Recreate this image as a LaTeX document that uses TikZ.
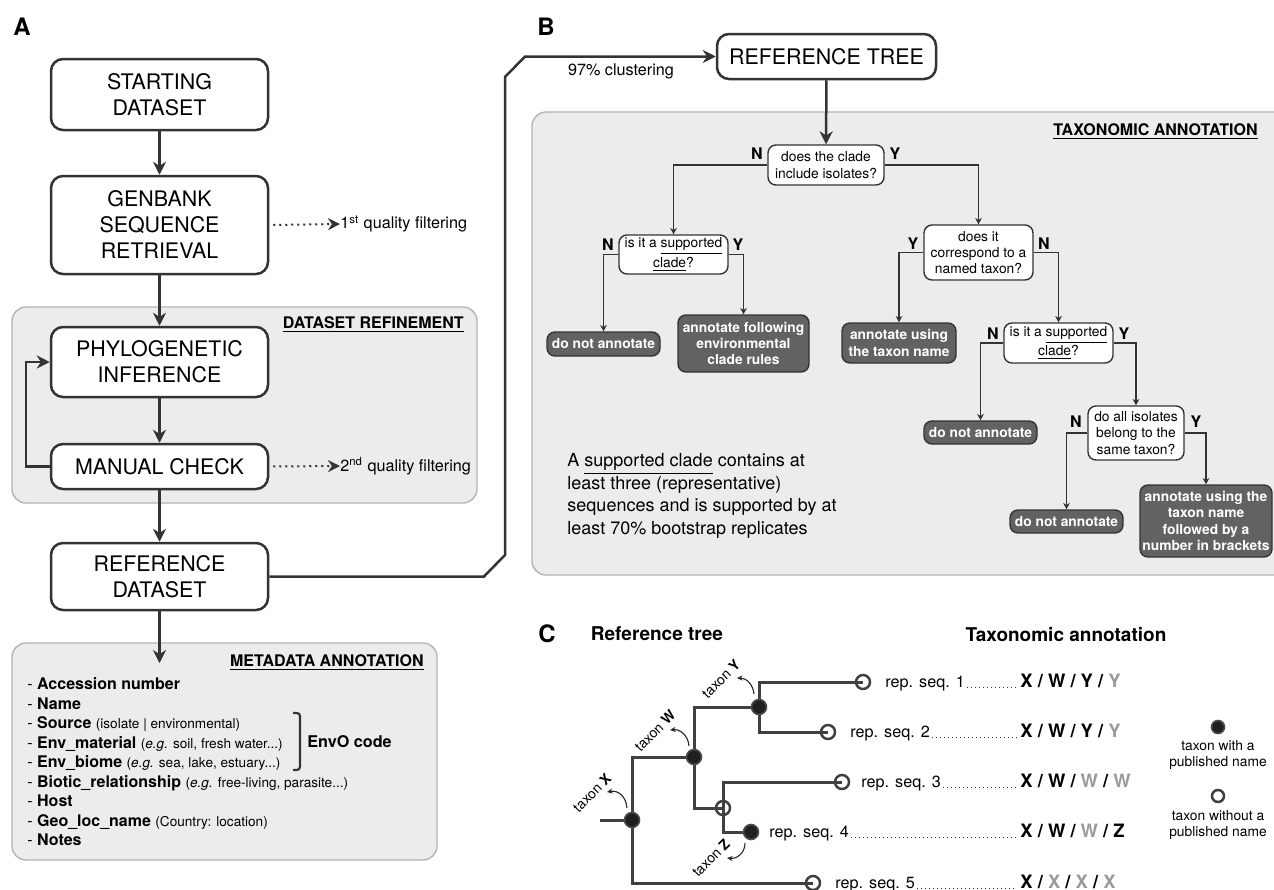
\documentclass[tikz,border=0pt]{standalone}
\usepackage{fontspec}
\setmainfont{TeX Gyre Heros}
\usetikzlibrary{arrows.meta}
\definecolor{panelgray}{HTML}{ECECEC}
\definecolor{panelline}{HTML}{B4B4B4}
\definecolor{boxline}{HTML}{333333}
\definecolor{leafgray}{HTML}{626262}
\definecolor{softgray}{HTML}{9A9A9A}
\newcommand\metanote[1]{{\mdseries\fontsize{6.8}{9.75}\selectfont #1}}
\tikzset{
  flowbox/.style={draw=boxline, line width=1.25pt, fill=white, rounded corners=6pt, align=center,
    inner sep=1pt, minimum width=108.5pt, font=\fontsize{10.7}{13}\selectfont},
  question/.style={draw=boxline, line width=0.7pt, fill=white, rounded corners=4pt, align=center,
    inner sep=1pt, font=\fontsize{6.9}{8.2}\selectfont},
  endbox/.style={draw=boxline, line width=0.7pt, fill=leafgray, text=white, rounded corners=4pt,
    align=center, inner sep=1pt, font=\bfseries\fontsize{6.9}{8.2}\selectfont},
  panel/.style={draw=panelline, line width=0.7pt, fill=panelgray, rounded corners=7pt},
  paneltitle/.style={anchor=east, inner sep=0pt, font=\bfseries\fontsize{8}{9.6}\selectfont},
  panelletter/.style={inner sep=0pt, font=\bfseries\fontsize{12}{14}\selectfont},
  bigarrow/.style={draw=boxline, line width=1.25pt, -{Stealth[length=6.5pt,width=6.5pt]}},
  qlink/.style={draw=boxline, line width=0.65pt, -{Stealth[length=3.2pt,width=3.4pt]}},
  filterarrow/.style={draw=boxline, line width=1pt, dotted, shorten <=2pt,
    -{Stealth[length=6pt,width=6pt]}},
  answer/.style={inner sep=0pt, font=\bfseries\fontsize{8}{9.6}\selectfont},
  sidetext/.style={anchor=west, inner sep=0pt, font=\fontsize{8.1}{9.7}\selectfont},
  branch/.style={draw=black!75, line width=1.5pt},
  namedtaxon/.style={circle, draw=black!70, fill=black!88, line width=0.8pt, minimum size=7.5pt, inner sep=0pt},
  unnamedtaxon/.style={circle, draw=black!75, line width=1.25pt, minimum size=7pt, inner sep=0pt},
  taxonlabel/.style={rotate=45, inner sep=0pt, font=\fontsize{7}{8}\selectfont},
  taxonarrow/.style={draw=black!85, line width=0.55pt, -{Stealth[length=2.8pt,width=2.6pt]}},
  seqname/.style={anchor=base west, inner sep=0pt, font=\fontsize{8.1}{9.7}\selectfont},
  annot/.style={anchor=base west, inner sep=0pt, font=\bfseries\fontsize{9.2}{11}\selectfont},
  leader/.style={draw=black!80, line width=0.5pt, dash pattern=on 0.5pt off 1.5pt, shorten <=1pt, shorten >=1.5pt},
  legendtext/.style={align=center, inner sep=0pt, font=\fontsize{6.9}{8}\selectfont}
}
\begin{document}
\begin{tikzpicture}[x=0.5pt,y=-0.5pt]
  \useasboundingbox (0,0) rectangle (1274,889);

  \draw[panel] (12,307) rectangle (477,503);
  \draw[panel] (12,643) rectangle (437,860);
  \draw[panel] (532,112) rectangle (1295,575);

  \node[panelletter] (la) at (22,27) {A};
  \node[panelletter] (lb) at (546,27) {B};
  \node[panelletter] (lc) at (547,634) {C};

  \node[flowbox, minimum height=35.5pt] (start) at (159.5,94.5) {STARTING\\DATASET};
  \node[flowbox, minimum height=49pt] (genbank) at (159.5,225) {GENBANK\\SEQUENCE\\RETRIEVAL};
  \node[flowbox, minimum height=35pt] (phylo) at (159.5,362) {PHYLOGENETIC\\INFERENCE};
  \node[flowbox, minimum height=22.5pt] (manual) at (159.5,466.5) {MANUAL CHECK};
  \node[flowbox, minimum height=33.5pt] (refdata) at (159.5,576.5) {REFERENCE\\DATASET};
  \node[flowbox, minimum width=109.5pt, minimum height=22.5pt] (reftree) at (826.5,56.5) {REFERENCE TREE};

  \node[paneltitle] (refinetitle) at (464,325) {\underline{DATASET REFINEMENT}};
  \node[paneltitle] (metatitle) at (424,663) {\underline{METADATA ANNOTATION}};
  \node[paneltitle] (taxotitle) at (1258,132) {\underline{TAXONOMIC ANNOTATION}};

  \node[sidetext] (filter1) at (340,224) {1\textsuperscript{st} quality filtering};
  \node[sidetext] (filter2) at (340,466) {2\textsuperscript{nd} quality filtering};
  \node[sidetext, anchor=center] (clustering) at (621,71) {97\% clustering};

  \draw[bigarrow] (start) -- (genbank);
  \draw[bigarrow] (genbank) -- (phylo);
  \draw[bigarrow] (phylo) -- (manual);
  \draw[bigarrow] (manual) -- (refdata);
  \draw[bigarrow] (manual.west) -- ++(-24,0) |- (phylo.west);
  \draw[filterarrow] (genbank.east) -- (filter1.west);
  \draw[filterarrow] (manual.east) -- (filter2.west);
  \draw[bigarrow] (refdata.east) -- (484,576.5) -- (505,555) -- (505,77) -- (525,56.5) -- (reftree.west);

  \coordinate (metain) at (159.5,663);
  \draw[bigarrow] (refdata.south) -- (metain);

  \node[anchor=north west, align=left, inner sep=0pt, font=\fontsize{8}{9.75}\selectfont] (metalist) at (27,677.5) {%
    - \textbf{Accession number}\\
    - \textbf{Name}\\
    - \textbf{Source} \metanote{(isolate | environmental)}\\
    - \textbf{Env\_material} \metanote{(\textit{e.g.} soil, fresh water...)}\\
    - \textbf{Env\_biome} \metanote{(\textit{e.g.} sea, lake, estuary...)}\\
    - \textbf{Biotic\_relationship} \metanote{(\textit{e.g.} free-living, parasite...)}\\
    - \textbf{Host}\\
    - \textbf{Geo\_loc\_name} \metanote{(Country: location)}\\
    - \textbf{Notes}};
  \draw[draw=boxline, line width=1.1pt] (293,713) .. controls (300,713) .. (300,720) -- (300,763)
    .. controls (300,770) .. (293,770);
  \node[anchor=west, inner sep=0pt, font=\bfseries\fontsize{8.1}{9.7}\selectfont] (envo) at (307,742) {EnvO code};

  \node[question, minimum width=58pt, minimum height=20pt] (q1) at (826,165) {does the clade\\include isolates?};
  \node[question, minimum width=54.5pt, minimum height=19.5pt] (q2) at (673.5,254.5) {is it a \underline{supported}\\\underline{clade}?};
  \node[question, minimum width=54.5pt, minimum height=27.5pt] (q3) at (978.5,252.5) {does it\\correspond to a\\named taxon?};
  \node[question, minimum width=54.5pt, minimum height=20pt] (q4) at (1058.5,343) {is it a \underline{supported}\\\underline{clade}?};
  \node[question, minimum width=48pt, minimum height=27pt] (q5) at (1136,433) {do all isolates\\belong to the\\same taxon?};

  \node[endbox, minimum width=56.5pt, minimum height=12pt] (e1) at (603.5,344) {do not annotate};
  \node[endbox, minimum width=65.5pt, minimum height=28.5pt] (e2) at (743.5,343.5) {annotate following\\environmental\\clade rules};
  \node[endbox, minimum width=57pt, minimum height=20pt] (e3) at (899,343) {annotate using\\the taxon name};
  \node[endbox, minimum width=56.5pt, minimum height=11.5pt] (e4) at (980.5,432.5) {do not annotate};
  \node[endbox, minimum width=56.5pt, minimum height=11.5pt] (e5) at (1066.5,521.5) {do not annotate};
  \node[endbox, minimum width=66pt, minimum height=36pt] (e6) at (1206,521) {annotate using the\\taxon name\\followed by a\\number in brackets};

  \node[answer] (q1n) at (757,154) {N};
  \node[answer] (q1y) at (895,154) {Y};
  \node[answer] (q2n) at (608,245) {N};
  \node[answer] (q2y) at (738,245) {Y};
  \node[answer] (q3y) at (913,244) {Y};
  \node[answer] (q3n) at (1044,244) {N};
  \node[answer] (q4n) at (993,334) {N};
  \node[answer] (q4y) at (1124,334) {Y};
  \node[answer] (q5n) at (1076,422) {N};
  \node[answer] (q5y) at (1196,422) {Y};

  \draw[bigarrow] (reftree) -- (q1);
  \draw[qlink] (q1.west) -| (q2.north);
  \draw[qlink] (q1.east) -| (q3.north);
  \draw[qlink] (q2.west) -| (e1.north);
  \draw[qlink] (q2.east) -| (e2.north);
  \draw[qlink] (q3.west) -| (e3.north);
  \draw[qlink] (q3.east) -| (q4.north);
  \draw[qlink] (q4.west) -| (e4.north);
  \draw[qlink] (q4.east) -| (q5.north);
  \draw[qlink] (q5.west) -| (e5.north);
  \draw[qlink] (q5.east) -| (e6.north);

  \node[anchor=north west, align=left, inner sep=0pt, font=\fontsize{9}{11.35}\selectfont] (cladenote) at (567,453) {%
    A \underline{supported clade} contains at\\
    least three (representative)\\
    sequences and is supported by at\\
    least 70\% bootstrap replicates};

  \node[inner sep=0pt, font=\bfseries\fontsize{9.5}{11}\selectfont] (treetitle) at (657,634) {Reference tree};
  \node[inner sep=0pt, font=\bfseries\fontsize{9.5}{11}\selectfont] (annottitle) at (1066,634) {Taxonomic annotation};

  \coordinate (root) at (600,820);
  \coordinate (cx) at (632,820);
  \coordinate (cw) at (694,757);
  \coordinate (cy) at (759,707);
  \coordinate (cu) at (723,808);
  \coordinate (cz) at (751,832);
  \coordinate (t1) at (863,682);
  \coordinate (t2) at (828,732);
  \coordinate (t3) at (842,782);
  \coordinate (t5) at (813,883);

  \draw[branch] (root) -- (cx);
  \draw[branch] (cw) -| (cx) |- (t5);
  \draw[branch] (cy) -| (cw) |- (cu);
  \draw[branch] (t1) -| (cy) |- (t2);
  \draw[branch] (t3) -| (cu) |- (cz);

  \node[namedtaxon] (nx) at (cx) {};
  \node[namedtaxon] (nw) at (cw) {};
  \node[namedtaxon] (ny) at (cy) {};
  \node[namedtaxon] (nz) at (cz) {};
  \node[unnamedtaxon] (nu) at (cu) {};
  \node[unnamedtaxon] (n1) at (t1) {};
  \node[unnamedtaxon] (n2) at (t2) {};
  \node[unnamedtaxon] (n3) at (t3) {};
  \node[unnamedtaxon] (n5) at (t5) {};

  \node[taxonlabel] (tx) at (592,793) {taxon \textbf{X}};
  \node[taxonlabel] (tw) at (655,731) {taxon \textbf{W}};
  \node[taxonlabel] (ty) at (721,679) {taxon \textbf{Y}};
  \node[taxonlabel] (tz) at (711,858) {taxon \textbf{Z}};
  \draw[taxonarrow] (627,808) .. controls (626,796) and (618,790) .. (607,792);
  \draw[taxonarrow] (689,746) .. controls (688,735) and (680,729) .. (670,730);
  \draw[taxonarrow] (754,694) .. controls (753,684) and (746,678) .. (737,678);
  \draw[taxonarrow] (745,843) .. controls (745,853) and (737,859) .. (727,858);

  \node[seqname] (s1) at (885,687) {rep. seq. 1};
  \node[seqname] (s2) at (850,737) {rep. seq. 2};
  \node[seqname] (s3) at (861,787) {rep. seq. 3};
  \node[seqname] (s4) at (769,837) {rep. seq. 4};
  \node[seqname] (s5) at (835,888) {rep. seq. 5};

  \node[annot] (a1) at (1020,687) {X / W / Y / \textcolor{softgray}{Y}};
  \node[annot] (a2) at (1020,737) {X / W / Y / \textcolor{softgray}{Y}};
  \node[annot] (a3) at (1020,787) {X / W / \textcolor{softgray}{W} / \textcolor{softgray}{W}};
  \node[annot] (a4) at (1020,837) {X / W / \textcolor{softgray}{W} / Z};
  \node[annot] (a5) at (1020,888) {X / \textcolor{softgray}{X} / \textcolor{softgray}{X} / \textcolor{softgray}{X}};

  \draw[leader] (s1.base east) -- (a1.base west);
  \draw[leader] (s2.base east) -- (a2.base west);
  \draw[leader] (s3.base east) -- (a3.base west);
  \draw[leader] (s4.base east) -- (a4.base west);
  \draw[leader] (s5.base east) -- (a5.base west);

  \node[namedtaxon, minimum size=6.5pt] (legpub) at (1218,727) {};
  \node[legendtext] (legpubtext) at (1218,755) {taxon with a\\published name};
  \node[unnamedtaxon, minimum size=6pt] (legnopub) at (1218,796) {};
  \node[legendtext] (legnopubtext) at (1218,825) {taxon without a\\published name};
\end{tikzpicture}
\end{document}
